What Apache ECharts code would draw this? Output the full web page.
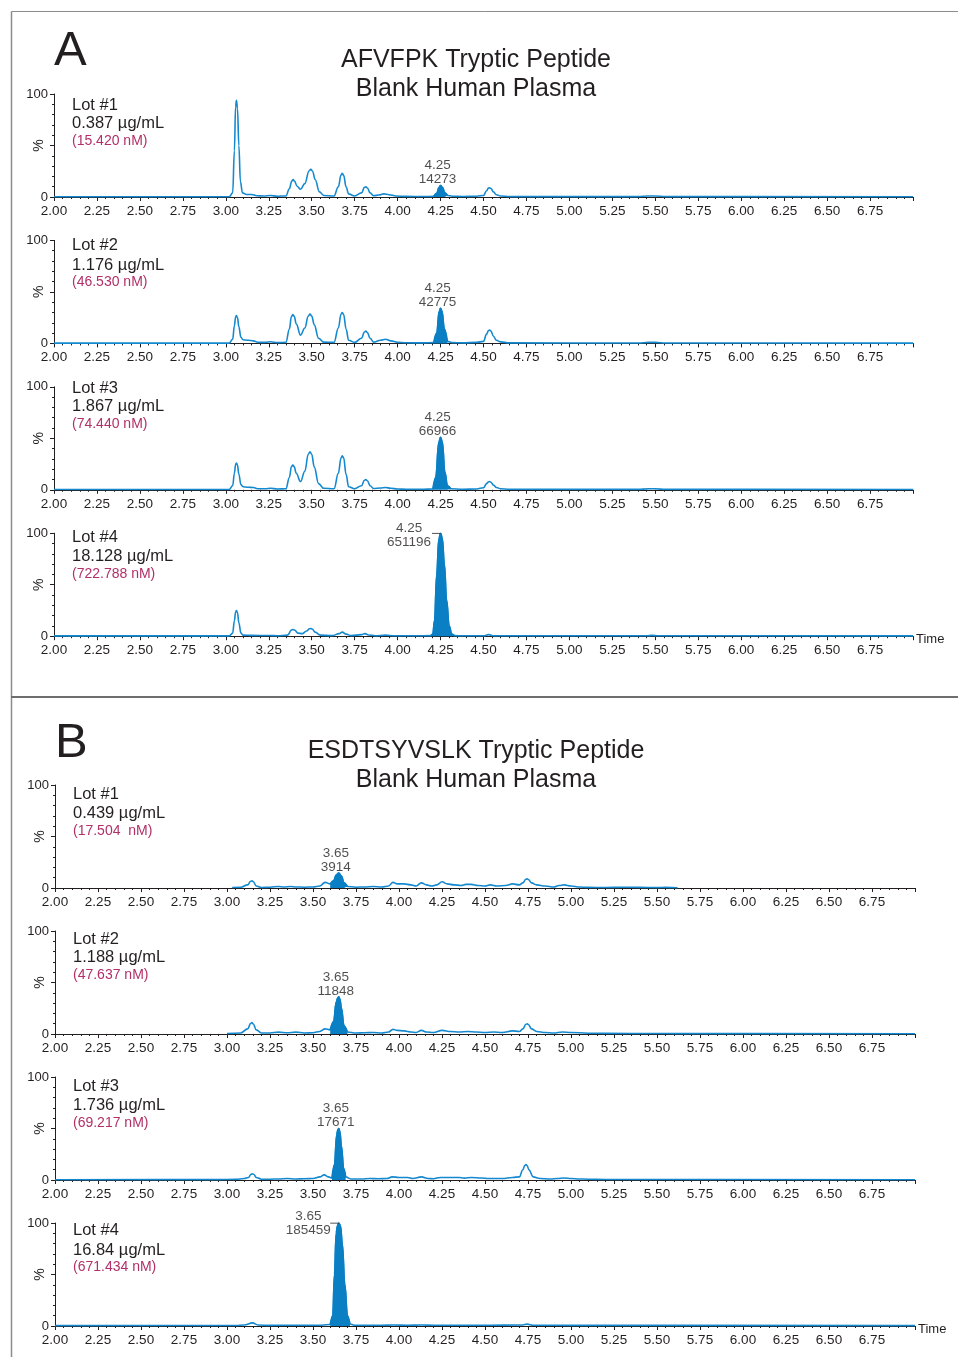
<!DOCTYPE html>
<html>
<head>
<meta charset="utf-8">
<script src="https://cdn.jsdelivr.net/npm/echarts@6/dist/echarts.min.js"></script>
<style>
  html, body { margin: 0; padding: 0; background: #fff; }
  #chart { width: 958px; height: 1357px; }
</style>
</head>
<body>
<div id="chart"></div>
<script>
// ---------- data ----------
// retention-time axis (min) and intensity axis (% of largest peak)
const timeRange = [2.0, 7.0];
const timeStep = 0.25;
const intensityTicks = [0, 100];
const timeAxisName = 'Time';

const panelLetters = ['A', 'B'];
const panelTitles = [
  ['AFVFPK Tryptic Peptide', 'Blank Human Plasma'],
  ['ESDTSYVSLK Tryptic Peptide', 'Blank Human Plasma']
];

const lotNames = ['Lot #1', 'Lot #2', 'Lot #3', 'Lot #4'];
const massConcA = ['0.387 µg/mL', '1.176 µg/mL', '1.867 µg/mL', '18.128 µg/mL'];
const molarConcA = ['(15.420 nM)', '(46.530 nM)', '(74.440 nM)', '(722.788 nM)'];
const massConcB = ['0.439 µg/mL', '1.188 µg/mL', '1.736 µg/mL', '16.84 µg/mL'];
const molarConcB = ['(17.504  nM)', '(47.637 nM)', '(69.217 nM)', '(671.434 nM)'];

// integrated analyte peak: retention time, area, integration window
const peakRtA = [4.25, 4.25, 4.25, 4.25];
const peakAreaA = [14273, 42775, 66966, 651196];
const peakWindowA = [[4.21, 4.30], [4.21, 4.30], [4.205, 4.31], [4.195, 4.33]];
const peakRtB = [3.65, 3.65, 3.65, 3.65];
const peakAreaB = [3914, 11848, 17671, 185459];
const peakWindowB = [[3.60, 3.70], [3.60, 3.70], [3.61, 3.70], [3.60, 3.72]];

// chromatogram traces: [time (min), intensity (%)]
const traceA1 = [[2.00,0.3],[3.02,0.3],[3.04,4],[3.05,45],[3.057,88],[3.062,94],[3.068,86],[3.076,50],[3.085,15],[3.097,4],[3.12,2.5],[3.15,2.5],[3.18,1.2],[3.22,1],[3.26,1.4],[3.30,0.8],[3.35,1],[3.37,8],[3.384,15.5],[3.392,17],[3.40,15.5],[3.415,10.5],[3.435,7.5],[3.46,13],[3.485,25.5],[3.495,27],[3.505,25],[3.52,17],[3.545,5],[3.57,1.5],[3.63,1],[3.655,10],[3.671,21.5],[3.678,23],[3.686,21],[3.70,10],[3.715,3],[3.75,1],[3.79,4],[3.807,9.3],[3.815,10],[3.824,8.8],[3.84,4],[3.86,1.2],[3.89,2],[3.92,3],[3.95,2.2],[3.99,1],[4.05,0.6],[4.15,0.5],[4.21,0.6],[4.228,3.5],[4.24,9],[4.25,11],[4.26,9.5],[4.275,4],[4.29,1.5],[4.32,0.8],[4.38,0.5],[4.46,0.8],[4.50,1.5],[4.518,6],[4.528,8.6],[4.535,9],[4.543,8.3],[4.558,5],[4.575,2.2],[4.60,1],[4.65,0.4],[5.40,0.4],[5.46,1],[5.50,1],[5.56,0.4],[7.00,0.3]];
const traceA2 = [[2.00,0.3],[3.02,0.3],[3.04,4],[3.05,17],[3.057,25.5],[3.062,27],[3.068,25],[3.076,16],[3.088,6],[3.10,3.5],[3.13,3],[3.16,2.5],[3.19,1],[3.23,1],[3.26,1.6],[3.30,0.8],[3.35,1],[3.37,14],[3.382,26],[3.39,28],[3.398,26.5],[3.41,19],[3.435,8],[3.46,15],[3.48,26.5],[3.49,28.5],[3.50,26.5],[3.515,18],[3.54,5],[3.57,1.2],[3.63,1],[3.655,15],[3.671,28.5],[3.678,30],[3.686,28],[3.70,14],[3.715,3],[3.75,1],[3.79,5],[3.807,11],[3.815,12],[3.824,10.5],[3.84,5],[3.86,1.2],[3.90,3],[3.93,4],[3.96,2.5],[4.00,1],[4.05,0.6],[4.15,0.5],[4.21,0.8],[4.228,10],[4.242,31],[4.25,34],[4.258,31.5],[4.272,14],[4.29,2],[4.32,0.8],[4.38,0.5],[4.46,1],[4.50,2],[4.518,9],[4.528,12.3],[4.535,13],[4.543,12],[4.558,7],[4.575,3],[4.60,1.5],[4.65,0.5],[5.40,0.4],[5.46,1],[5.50,1],[5.56,0.4],[7.00,0.3]];
const traceA3 = [[2.00,0.3],[3.02,0.3],[3.04,4],[3.05,16],[3.057,24.5],[3.062,26],[3.068,24],[3.076,15],[3.088,5],[3.10,3],[3.13,2.5],[3.16,2.2],[3.19,1],[3.23,1],[3.26,1.5],[3.30,0.8],[3.35,1],[3.37,12],[3.382,22.5],[3.39,24],[3.398,22.5],[3.41,16],[3.435,8],[3.46,18],[3.48,34.5],[3.49,37],[3.50,34.5],[3.515,22],[3.54,6],[3.57,1.5],[3.63,1],[3.655,16],[3.671,31],[3.678,33],[3.686,31],[3.70,15],[3.715,3],[3.75,1],[3.79,4],[3.807,9.3],[3.815,10],[3.824,8.8],[3.84,4],[3.86,1.2],[3.90,1.8],[3.93,2.2],[3.96,1.5],[4.00,0.8],[4.05,0.6],[4.15,0.5],[4.205,0.8],[4.222,12],[4.24,46],[4.25,51],[4.26,46.5],[4.275,17],[4.29,4],[4.31,1],[4.38,0.5],[4.46,0.8],[4.50,2],[4.518,6],[4.528,7.6],[4.535,8],[4.543,7.4],[4.558,4.5],[4.575,2.2],[4.60,1],[4.65,0.5],[5.40,0.4],[5.46,1],[5.50,1],[5.56,0.4],[7.00,0.3]];
const traceA4 = [[2.00,0.3],[3.02,0.3],[3.04,3],[3.05,15],[3.057,23.5],[3.062,25],[3.068,23],[3.076,13],[3.088,3],[3.10,1],[3.15,0.8],[3.25,0.7],[3.30,0.5],[3.36,1],[3.382,6],[3.39,6.5],[3.40,6],[3.42,3],[3.445,2.5],[3.47,5],[3.487,7.2],[3.495,7.5],[3.503,7],[3.52,4],[3.55,1],[3.62,0.6],[3.66,2.5],[3.678,4],[3.70,2],[3.73,0.6],[3.79,1.5],[3.81,2.5],[3.83,1.2],[3.87,0.5],[3.93,1],[3.98,0.5],[4.10,0.4],[4.195,0.6],[4.205,2],[4.215,15],[4.228,60],[4.24,94],[4.25,100],[4.26,95],[4.272,70],[4.285,35],[4.30,10],[4.315,2],[4.33,0.6],[4.38,0.4],[4.50,0.4],[4.53,1.5],[4.56,0.4],[5.45,0.4],[5.48,0.8],[5.52,0.4],[7.00,0.3]];

const traceB1 = [[3.03,0.5],[3.08,0.8],[3.12,3],[3.138,6.5],[3.145,7],[3.152,6.3],[3.17,2],[3.20,0.5],[3.25,0.8],[3.30,1.5],[3.33,1],[3.37,1.5],[3.40,1],[3.45,0.8],[3.50,1],[3.54,2],[3.57,5.5],[3.60,4],[3.62,7],[3.635,12.5],[3.65,14.5],[3.665,11.5],[3.68,5],[3.70,1.5],[3.75,0.8],[3.80,1],[3.85,1.5],[3.90,1],[3.94,2],[3.965,5.5],[3.99,4],[4.03,4],[4.07,3],[4.10,2],[4.13,5],[4.16,3],[4.19,2],[4.22,3],[4.25,6],[4.28,4],[4.32,3],[4.36,2.5],[4.39,3.5],[4.42,3.5],[4.46,2.5],[4.50,2],[4.53,3],[4.57,2],[4.62,2.5],[4.66,4],[4.70,3],[4.72,5],[4.738,8.5],[4.745,9],[4.752,8.3],[4.77,5],[4.80,3],[4.85,2],[4.90,1],[4.93,2.5],[4.96,3],[5.00,2],[5.05,1],[5.10,0.6],[5.20,0.5],[5.30,0.8],[5.40,0.6],[5.50,0.4],[5.55,0.6],[5.62,0.3]];
const traceB2 = [[3.00,0.5],[3.08,1],[3.12,5],[3.138,10.3],[3.145,11],[3.152,10],[3.17,4],[3.20,1],[3.25,1],[3.30,1.8],[3.35,1.2],[3.40,1.8],[3.45,1],[3.50,1.2],[3.54,2.5],[3.57,5],[3.60,4],[3.62,12],[3.635,31],[3.645,35.5],[3.65,36],[3.656,34],[3.665,25],[3.68,8],[3.70,2],[3.75,1],[3.80,1.2],[3.85,1.5],[3.90,1],[3.94,2],[3.965,4.5],[3.99,3.5],[4.03,3],[4.07,2],[4.10,1.5],[4.13,3.5],[4.16,2],[4.20,1.5],[4.25,3.5],[4.30,2.5],[4.35,2],[4.40,2.5],[4.45,2],[4.50,1.5],[4.55,2],[4.60,1.5],[4.66,3],[4.70,2.5],[4.72,5],[4.738,9.4],[4.745,10],[4.752,9.2],[4.77,5],[4.80,2.5],[4.85,1.5],[4.90,1],[4.95,2],[5.00,1.5],[5.10,0.8],[5.20,0.6],[5.50,0.5],[5.60,0.4],[7.00,0.3]];
const traceB3 = [[2.00,0.3],[2.95,0.4],[3.05,0.6],[3.10,1.5],[3.125,2.5],[3.14,5.6],[3.148,6],[3.156,5.4],[3.17,2.5],[3.20,0.8],[3.25,0.8],[3.30,1],[3.35,1.5],[3.40,1],[3.45,1.2],[3.50,1.5],[3.54,3],[3.565,5],[3.59,3],[3.61,2],[3.625,15],[3.638,44],[3.645,49],[3.65,50],[3.656,47],[3.665,33],[3.678,11],[3.69,3],[3.72,1],[3.78,1],[3.83,1.5],[3.88,1.2],[3.93,1.5],[3.96,3],[4.00,2.5],[4.05,2.5],[4.08,1.5],[4.13,3],[4.17,1.5],[4.20,1.2],[4.24,2.5],[4.30,2.5],[4.35,2.5],[4.38,1.8],[4.42,2.5],[4.48,2],[4.52,1.5],[4.60,1.5],[4.66,2.5],[4.70,3],[4.72,10],[4.732,14.3],[4.738,15],[4.745,14],[4.755,10],[4.78,3],[4.82,1.5],[4.88,1],[4.92,1.5],[4.96,2],[5.00,1.5],[5.05,1],[5.10,0.8],[5.20,0.5],[7.00,0.3]];
const traceB4 = [[2.00,0.4],[3.05,0.5],[3.10,1],[3.148,3],[3.18,1],[3.25,0.6],[3.40,0.8],[3.55,0.8],[3.60,1.5],[3.615,10],[3.625,50],[3.635,90],[3.642,97],[3.65,100],[3.66,97],[3.67,80],[3.685,40],[3.70,10],[3.715,2],[3.74,0.8],[3.90,0.7],[3.97,1],[4.05,0.7],[4.13,1],[4.20,0.7],[4.50,0.7],[4.72,1],[4.745,1.8],[4.78,0.8],[5.00,0.6],[7.00,0.4]];

// ---------- layout ----------
const FONT = '"Liberation Sans", Arial, Helvetica, sans-serif';
const INK = '#231f20';
const TRACE = '#1589cf';
const FILL = '#0a7fc4';
const MOLAR = '#b22f68';

// one entry per chromatogram strip; labelShift places the label of a full-scale peak
const strips = [
  { left: 54, width: 859, top: 94,    textX: 72, textY: [105, 123, 141.5] },
  { left: 54, width: 859, top: 240.4, textX: 72, textY: [245, 265, 282] },
  { left: 54, width: 859, top: 386.8, textX: 72, textY: [388, 406, 424] },
  { left: 54, width: 859, top: 533.2, textX: 72, textY: [537, 556, 574], timeAt: [916, 639], labelShift: [-31, 3] },
  { left: 55, width: 860, top: 785,   textX: 73, textY: [794, 813, 831] },
  { left: 55, width: 860, top: 931,   textX: 73, textY: [939, 957, 975] },
  { left: 55, width: 860, top: 1077,  textX: 73, textY: [1086, 1105, 1123] },
  { left: 55, width: 860, top: 1223,  textX: 73, textY: [1230, 1250, 1267], timeAt: [918, 1329], labelShift: [-30, 1] }
];
const STRIP_H = 103;

const traces = [traceA1, traceA2, traceA3, traceA4, traceB1, traceB2, traceB3, traceB4];
const peakRt = peakRtA.concat(peakRtB);
const peakArea = peakAreaA.concat(peakAreaB);
const peakWindow = peakWindowA.concat(peakWindowB);
const massConc = massConcA.concat(massConcB);
const molarConc = molarConcA.concat(molarConcB);

const grids = [], xAxes = [], yAxes = [], series = [], graphics = [];

strips.forEach((s, i) => {
  grids.push({ left: s.left, top: s.top, width: s.width, height: STRIP_H });

  xAxes.push({
    gridIndex: i, type: 'value',
    min: timeRange[0], max: timeRange[1], interval: timeStep,
    axisLine: { onZero: false, lineStyle: { color: INK, width: 1 } },
    axisTick: { show: true, length: 4, lineStyle: { color: INK, width: 1 } },
    minorTick: { show: true, splitNumber: 5, length: 2, lineStyle: { color: INK, width: 1 } },
    splitLine: { show: false },
    axisLabel: {
      show: true, margin: 7, color: INK, fontFamily: FONT, fontSize: 13.5,
      showMaxLabel: false, formatter: v => v.toFixed(2)
    }
  });

  yAxes.push({
    gridIndex: i, type: 'value', min: 0, max: 100, interval: 50,
    axisLine: { show: true, lineStyle: { color: INK, width: 1 } },
    axisTick: { show: true, length: 4, lineStyle: { color: INK, width: 1 } },
    minorTick: { show: true, splitNumber: 5, length: 2, lineStyle: { color: INK, width: 1 } },
    splitLine: { show: false },
    axisLabel: {
      margin: 6, color: INK, fontFamily: FONT, fontSize: 13,
      formatter: v => (intensityTicks.indexOf(v) >= 0 ? String(v) : '')
    },
    name: '%', nameLocation: 'middle', nameRotate: 90, nameGap: 8, nameMoveOverlap: false,
    nameTextStyle: { color: INK, fontFamily: FONT, fontSize: 14 }
  });

  const tr = traces[i];
  // full chromatogram trace
  series.push({
    type: 'line', xAxisIndex: i, yAxisIndex: i, data: tr,
    showSymbol: false, smooth: 0.4, smoothMonotone: 'x',
    lineStyle: { color: TRACE, width: 1.6 }, z: 3, silent: true
  });

  // shaded integrated peak
  const w = peakWindow[i];
  const peakPts = tr.filter(p => p[0] >= w[0] && p[0] <= w[1]);
  series.push({
    type: 'line', xAxisIndex: i, yAxisIndex: i, data: peakPts,
    showSymbol: false, smooth: 0.4, smoothMonotone: 'x',
    lineStyle: { color: FILL, width: 1.6 },
    areaStyle: { color: FILL, opacity: 1 }, z: 4, silent: true
  });

  // retention time / area annotation at the apex
  const apex = Math.max.apply(null, peakPts.map(p => p[1]));
  const shifted = !!s.labelShift;
  const labelText = () => peakRt[i].toFixed(2) + '\n' + peakArea[i];
  series.push({
    type: 'scatter', xAxisIndex: i, yAxisIndex: i,
    data: [[peakRt[i], apex]], symbolSize: 1,
    itemStyle: { color: 'rgba(0,0,0,0)' }, z: 6, silent: true,
    label: shifted ? {
      show: true, position: s.labelShift, align: 'center', verticalAlign: 'middle',
      color: INK, fontFamily: FONT, fontSize: 13.5, lineHeight: 14, formatter: labelText
    } : {
      show: true, position: 'top', distance: 1, offset: [-3, 2.5],
      color: INK, fontFamily: FONT, fontSize: 13.5, lineHeight: 14, formatter: labelText
    }
  });
  if (shifted) {
    // leader from the label to the apex
    series.push({
      type: 'line', xAxisIndex: i, yAxisIndex: i,
      data: [[peakRt[i] - 0.05, apex], [peakRt[i], apex]],
      showSymbol: false, lineStyle: { color: INK, width: 1 }, z: 5, silent: true
    });
  }

  // time-axis name after the last strip of each panel
  if (s.timeAt) {
    graphics.push({ type: 'text', x: s.timeAt[0], y: s.timeAt[1],
      style: { text: timeAxisName, font: '13px ' + FONT, fill: INK, textVerticalAlign: 'middle' } });
  }

  // lot annotation
  const li = i % 4;
  graphics.push(
    { type: 'text', x: s.textX, y: s.textY[0], style: { text: lotNames[li], font: '16.5px ' + FONT, fill: INK, textVerticalAlign: 'middle' } },
    { type: 'text', x: s.textX, y: s.textY[1], style: { text: massConc[i], font: '16.5px ' + FONT, fill: INK, textVerticalAlign: 'middle' } },
    { type: 'text', x: s.textX, y: s.textY[2], style: { text: molarConc[i], font: '14px ' + FONT, fill: MOLAR, textVerticalAlign: 'middle' } }
  );
});

// panel letters and headings
const headings = [
  { letterX: 54, letterY: 51, titleX: 476, titleY: [60, 89] },
  { letterX: 55, letterY: 743, titleX: 476, titleY: [751, 780] }
];
headings.forEach((h, k) => {
  graphics.push(
    { type: 'text', x: h.letterX, y: h.letterY, style: { text: panelLetters[k], font: '49px ' + FONT, fill: INK, textVerticalAlign: 'middle' } },
    { type: 'text', x: h.titleX, y: h.titleY[0], style: { text: panelTitles[k][0], font: '25px ' + FONT, fill: INK, textAlign: 'center', textVerticalAlign: 'middle' } },
    { type: 'text', x: h.titleX, y: h.titleY[1], style: { text: panelTitles[k][1], font: '25px ' + FONT, fill: INK, textAlign: 'center', textVerticalAlign: 'middle' } }
  );
});

// figure frame and panel divider
graphics.push(
  { type: 'line', shape: { x1: 11.5, y1: 11.5, x2: 958, y2: 11.5 }, style: { stroke: '#8c8c8c', lineWidth: 1 } },
  { type: 'line', shape: { x1: 11.5, y1: 11.5, x2: 11.5, y2: 1357 }, style: { stroke: '#8c8c8c', lineWidth: 1.5 } },
  { type: 'line', shape: { x1: 11, y1: 697, x2: 958, y2: 697 }, style: { stroke: '#6e6e6e', lineWidth: 2 } }
);

const chart = echarts.init(document.getElementById('chart'), null, { renderer: 'canvas', width: 958, height: 1357 });
chart.setOption({
  animation: false,
  backgroundColor: '#ffffff',
  textStyle: { fontFamily: FONT },
  grid: grids,
  xAxis: xAxes,
  yAxis: yAxes,
  series: series,
  graphic: graphics
});
</script>
</body>
</html>
